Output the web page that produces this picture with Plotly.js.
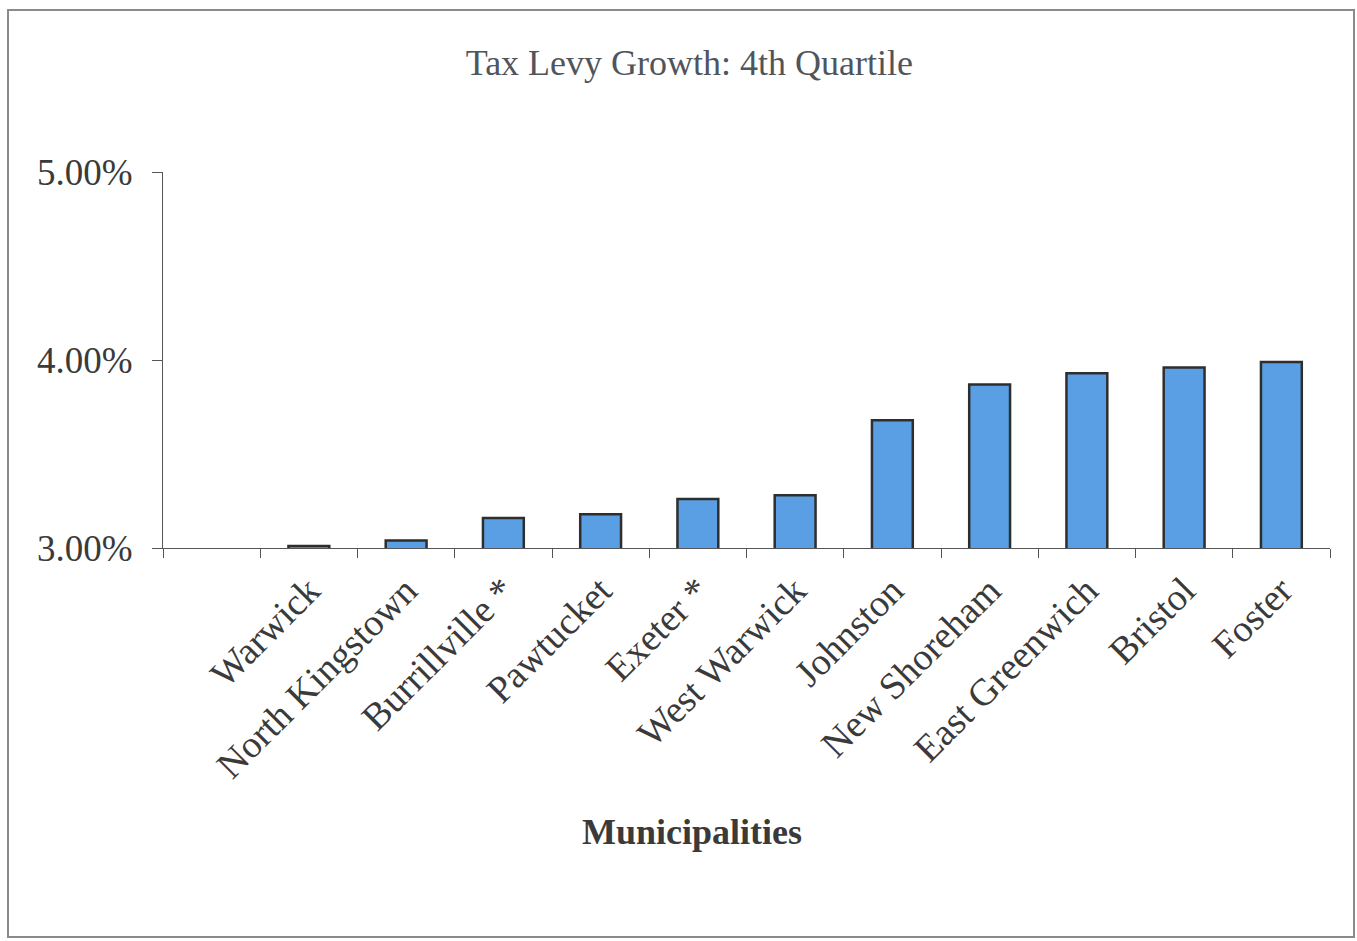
<!DOCTYPE html>
<html>
<head>
<meta charset="utf-8">
<script src="https://cdn.plot.ly/plotly-3.0.1.min.js"></script>
<style>
html,body{margin:0;padding:0;background:#fff;}
#wrap{position:relative;width:1357px;height:941px;}
#chart{width:1357px;height:941px;}
#frame{position:absolute;left:7px;top:9px;width:1344px;height:925px;border:2px solid #8a8a8a;pointer-events:none;}
</style>
</head>
<body>
<div id="wrap"><div id="chart"></div><div id="frame"></div></div>
<script>
const categories = [" ", "Warwick", "North Kingstown", "Burrillville *", "Pawtucket", "Exeter *", "West Warwick", "Johnston", "New Shoreham", "East Greenwich", "Bristol", "Foster"];
const levyGrowth = [null, 3.01, 3.04, 3.16, 3.18, 3.26, 3.28, 3.68, 3.87, 3.93, 3.96, 3.99];
const yTicks = [3, 4, 5];
const yTickLabels = ["3.00%", "4.00%", "5.00%"];
const chartTitle = "Tax Levy Growth: 4th Quartile";
const xTitle = "Municipalities";

const font = "Liberation Serif, Times New Roman, serif";
const trace = {
  type: "bar",
  x: categories,
  y: levyGrowth,
  marker: {color: "#5a9fe4", line: {color: "#2e2e2e", width: 2.5}},
  hoverinfo: "x+y"
};
const layout = {
  width: 1357, height: 941,
  margin: {l: 163, r: 27, t: 172, b: 393},
  paper_bgcolor: "#fff", plot_bgcolor: "#fff",
  showlegend: false,
  bargap: 0.58,
  title: {text: chartTitle, font: {family: font, size: 36, color: "#50555b"}, xref: "container", x: 0.508, xanchor: "center", yref: "container", y: 0.934, yanchor: "middle"},
  xaxis: {
    type: "category",
    tickson: "boundaries",
    ticks: "outside", ticklen: 9, tickcolor: "#555", tickwidth: 1,
    showline: true, linecolor: "#555", linewidth: 1,
    showgrid: false,
    tickangle: -45,
    ticklabelstandoff: 4,
    tickfont: {family: font, size: 38, color: "#3a3a3a"}
  },
  yaxis: {
    range: [3, 5],
    tickvals: yTicks, ticktext: yTickLabels,
    ticks: "outside", ticklen: 10, tickcolor: "#555", tickwidth: 1,
    showline: true, linecolor: "#555", linewidth: 1,
    showgrid: false, zeroline: false,
    ticklabelstandoff: 12,
    tickfont: {family: font, size: 37, color: "#3a3a3a"}
  },
  annotations: [{
    text: "<b>" + xTitle + "</b>", xref: "paper", yref: "paper",
    x: 0.453, y: -0.755, xanchor: "center", yanchor: "middle", showarrow: false,
    font: {family: font, size: 36, color: "#3a3a3a"}
  }]
};
Plotly.newPlot("chart", [trace], layout, {displayModeBar: false, staticPlot: true});
</script>
</body>
</html>
